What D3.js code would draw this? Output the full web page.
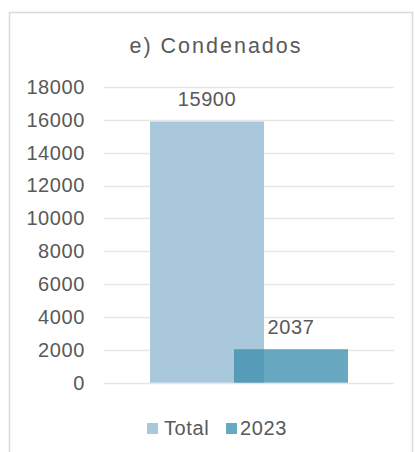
<!DOCTYPE html>
<html>
<head>
<meta charset="utf-8">
<script src="https://cdn.jsdelivr.net/npm/d3@7"></script>
<style>
  html, body { margin: 0; padding: 0; background: #fff; }
  svg { display: block; }
  text { font-family: "Liberation Sans", Arial, sans-serif; fill: #595959; }
</style>
</head>
<body>
<script>
const title = "e) Condenados";
const series = ["Total", "2023"];
const values = [15900, 2037];
const colors = ["#AAC8DC", "#3F8FB0"];
const opacities = [1, 0.78];
const yTicks = [0, 2000, 4000, 6000, 8000, 10000, 12000, 14000, 16000, 18000];

const W = 415, H = 452;
const svg = d3.select("body").append("svg").attr("width", W).attr("height", H);

// chart border
svg.append("rect")
  .attr("x", 9.5).attr("y", 12.5).attr("width", 403).attr("height", 460)
  .attr("fill", "none").attr("stroke", "#D9D9D9").attr("stroke-width", 1.5);

const plot = { left: 104, right: 394, top: 87, bottom: 382.7 };

const y = d3.scaleLinear().domain([0, 18000]).range([plot.bottom, plot.top]);
const x = d3.scalePoint().domain(series).range([207, 291]);
const barW = 114;

// gridlines
svg.append("g").selectAll("line").data(yTicks).join("line")
  .attr("x1", plot.left).attr("x2", plot.right)
  .attr("y1", d => Math.round(y(d)) + 0.5).attr("y2", d => Math.round(y(d)) + 0.5)
  .attr("stroke", "#E6E6E6").attr("stroke-width", 1.5);

// y axis labels
const yAxis = d3.axisLeft(y).tickValues(yTicks).tickSize(0).tickPadding(0).tickFormat(d3.format("d"));
const yg = svg.append("g").attr("transform", "translate(85,0)").call(yAxis);
yg.select(".domain").remove();
yg.selectAll("text")
  .attr("font-family", "Liberation Sans, Arial, sans-serif")
  .attr("font-size", 20).attr("fill", "#595959")
  .attr("letter-spacing", "0.6px");

// bars
svg.append("g").selectAll("rect").data(series).join("rect")
  .attr("x", d => x(d) - barW / 2)
  .attr("width", barW)
  .attr("y", (d, i) => y(values[i]))
  .attr("height", (d, i) => y(0) - y(values[i]))
  .attr("fill", (d, i) => colors[i])
  .attr("fill-opacity", (d, i) => opacities[i]);

// data labels
svg.append("g").selectAll("text").data(series).join("text")
  .attr("x", d => x(d))
  .attr("y", (d, i) => y(values[i]) - 15)
  .attr("text-anchor", "middle")
  .attr("font-size", 20)
  .attr("letter-spacing", "0.6px")
  .text((d, i) => values[i]);

// title
svg.append("text")
  .attr("x", 216).attr("y", 53)
  .attr("text-anchor", "middle")
  .attr("font-size", 21.5)
  .attr("letter-spacing", "2px")
  .text(title);

// legend
const legendPos = [147, 226];
const lg = svg.append("g").selectAll("g").data(series).join("g")
  .attr("transform", (d, i) => `translate(${legendPos[i]},0)`);
lg.append("rect")
  .attr("x", 0).attr("y", 423).attr("width", 11).attr("height", 11)
  .attr("fill", (d, i) => colors[i])
  .attr("fill-opacity", (d, i) => opacities[i]);
lg.append("text")
  .attr("x", (d, i) => i === 0 ? 17 : 14).attr("y", 435)
  .attr("font-size", 20)
  .attr("letter-spacing", "0.6px")
  .text(d => d);
</script>
</body>
</html>
